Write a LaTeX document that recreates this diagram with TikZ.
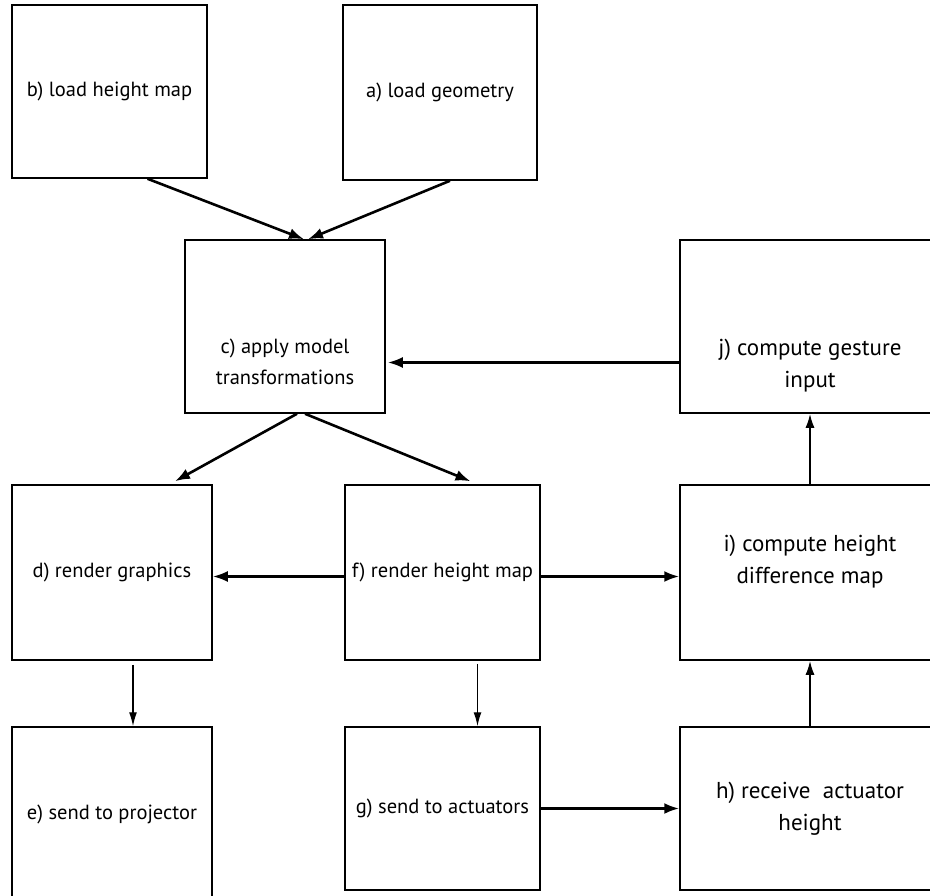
\documentclass[tikz,border=0pt]{standalone}
\usepackage{fontspec}
\setmainfont{PT Sans}
\usetikzlibrary{arrows.meta}

\begin{document}
\begin{tikzpicture}[x=1pt, y=-1pt,
  box/.style={draw, line width=1.5pt, align=center, inner sep=0pt,
              font=\fontsize{20.5}{31}\selectfont},
  txt/.style={align=center, inner sep=0pt, font=\fontsize{20.5}{31}\selectfont},
  big/.style={font=\fontsize{23}{32}\selectfont},
  thk/.style={-{Latex[length=15pt,width=11pt]}, line width=2.6pt},
  mid/.style={-{Latex[length=14pt,width=9pt]}, line width=1.9pt},
  thn/.style={-{Latex[length=14pt,width=8pt]}, line width=1.4pt}]
  \useasboundingbox (0,0) rectangle (930,896);
  \clip (0,0) rectangle (930,896);
  % top row
  \node[box, minimum width=195pt, minimum height=173pt] (loadhm) at (109.5,91.5) {b) load height map};
  \node[box, minimum width=194pt, minimum height=175pt] (loadgeo) at (440,92.5) {a) load geometry};
  % second row
  \node[box, minimum width=200pt, minimum height=173pt] (apply) at (285,326.5) {};
  \node[txt] (applytxt) at (285,362) {c) apply model\\transformations};
  \node[box, minimum width=260pt, minimum height=173pt] (gesture) at (810,326.5) {};
  \node[txt, big] (gesturetxt) at (810,366) {j) compute gesture\\input};
  % third row
  \node[box, minimum width=200pt, minimum height=175pt] (rgfx) at (112,572.5) {d) render graphics};
  \node[box, minimum width=195pt, minimum height=175pt] (rhm) at (442.5,572.5) {f) render height map};
  \node[box, minimum width=260pt, minimum height=175pt] (diff) at (810,572.5) {};
  \node[txt, big] (difftxt) at (810,562) {i) compute height\\difference map};
  % bottom row
  \node[box, minimum width=200pt, minimum height=175pt] (proj) at (112,814.5) {e) send to projector};
  \node[box, minimum width=195pt, minimum height=163pt] (send) at (442.5,808.5) {g) send to actuators};
  \node[box, big, minimum width=260pt, minimum height=163pt] (recv) at (810,808.5) {h) receive\ \ actuator\\height};
  % connectors
  \draw[thk] ([xshift=38pt]loadhm.south) -- ([xshift=19pt]apply.north);
  \draw[thk] ([xshift=10pt]loadgeo.south) -- ([xshift=23pt]apply.north);
  \draw[thk] ([xshift=12pt]apply.south) -- ([xshift=63pt,yshift=3pt]rgfx.north);
  \draw[thk] ([xshift=20pt]apply.south) -- ([xshift=28pt,yshift=3pt]rhm.north);
  \draw[thk] ([yshift=-36pt]gesture.west) -- ([xshift=2pt,yshift=-36pt]apply.east);
  \draw[thk] ([yshift=-4pt]rhm.west) -- ([yshift=-4pt]rgfx.east);
  \draw[thk] ([yshift=-4pt]rhm.east) -- ([yshift=-4pt]diff.west);
  \draw[thn] ([xshift=21pt,yshift=-4pt]rgfx.south) -- ([xshift=21pt]proj.north);
  \draw[thn] ([xshift=35pt,yshift=-3pt]rhm.south) -- ([xshift=35pt]send.north);
  \draw[thk] (send.east) -- (recv.west);
  \draw[mid] (recv.north) -- (diff.south);
  \draw[mid] (diff.north) -- (gesture.south);
\end{tikzpicture}
\end{document}
